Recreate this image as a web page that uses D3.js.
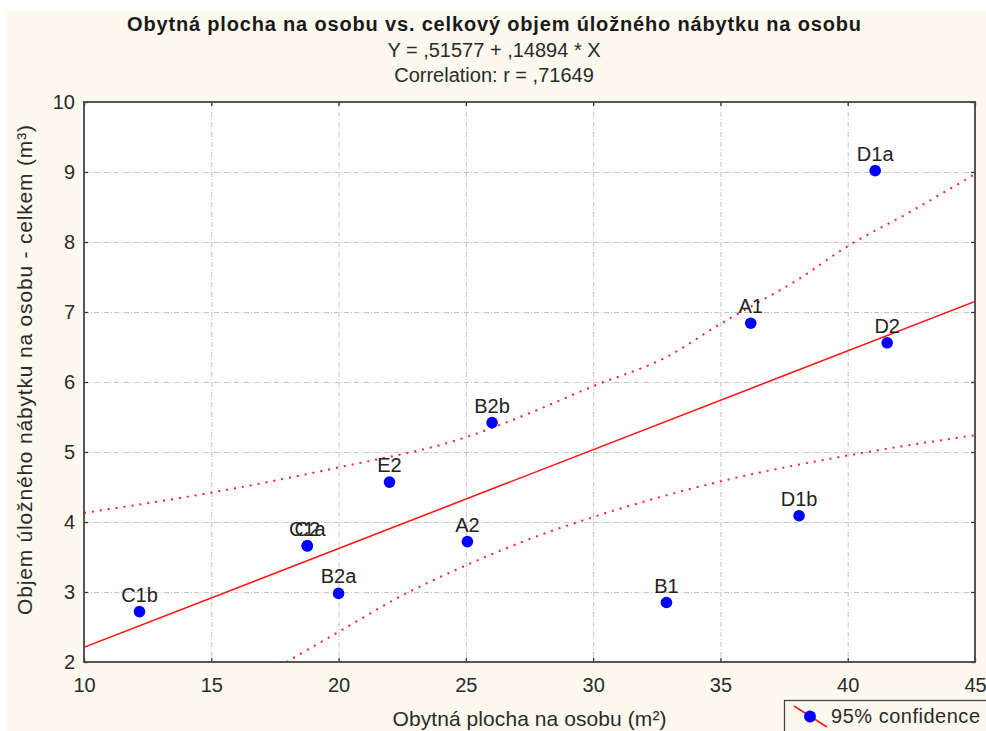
<!DOCTYPE html>
<html>
<head>
<meta charset="utf-8">
<script src="https://cdn.jsdelivr.net/npm/d3@7"></script>
<style>
  html, body { margin: 0; padding: 0; background: #ffffff; }
  svg { display: block; font-family: "Liberation Sans", Arial, sans-serif; }
</style>
</head>
<body>
<svg id="chart" width="986" height="731"></svg>
<script>
// ---- data ----
const titleText = "Obytná plocha na osobu vs. celkový objem úložného nábytku na osobu";
const equationText = "Y = ,51577 + ,14894 * X";
const correlationText = "Correlation: r = ,71649";
const xAxisTitle = "Obytná plocha na osobu (m²)";
const yAxisTitle = "Objem úložného nábytku na osobu - celkem (m³)";
const legendLabel = "95% confidence";

const pointLabels = ["C1b", "C1a", "C2", "B2a", "E2", "A2", "B2b", "B1", "A1", "D1b", "D1a", "D2"];
const pointX = [12.18, 18.77, 18.77, 20.0, 22.0, 25.06, 26.03, 32.88, 36.19, 38.09, 41.08, 41.55];
const pointY = [2.72, 3.66, 3.66, 2.98, 4.57, 3.72, 5.42, 2.85, 6.84, 4.09, 9.02, 6.56];

const fitX = [10, 45];
const fitY = [2.21, 7.15];

const upperX = [10, 15, 20, 25, 27.6, 30, 32.9, 35, 36.4, 37.9, 40, 42.5, 45];
const upperY = [4.13, 4.42, 4.78, 5.21, 5.57, 5.94, 6.36, 6.83, 7.12, 7.43, 7.94, 8.44, 8.97];

const lowerX = [17.94, 20, 22.5, 25, 27.6, 30, 35, 40, 45];
const lowerY = [2.0, 2.43, 2.95, 3.38, 3.77, 4.07, 4.58, 4.95, 5.24];

const xTicks = [10, 15, 20, 25, 30, 35, 40, 45];
const yTicks = [2, 3, 4, 5, 6, 7, 8, 9, 10];

// ---- layout ----
const svg = d3.select("#chart");
const plot = { left: 84, top: 102, right: 975, bottom: 662 };
const x = d3.scaleLinear().domain([10, 45]).range([plot.left, plot.right]);
const y = d3.scaleLinear().domain([2, 10]).range([plot.bottom, plot.top]);
const bg = "#fdf9ee";

svg.append("rect").attr("x", 7).attr("y", 10).attr("width", 979).attr("height", 721).attr("fill", bg);

// titles
const tcol = "#1a1a1a";
svg.append("text").attr("x", 494).attr("y", 31).attr("text-anchor", "middle")
  .attr("font-size", 20).attr("font-weight", "bold").attr("fill", tcol)
  .attr("textLength", 734).attr("lengthAdjust", "spacing").text(titleText);
svg.append("text").attr("x", 494).attr("y", 57).attr("text-anchor", "middle")
  .attr("font-size", 20).attr("fill", "#2a2a2a").text(equationText);
svg.append("text").attr("x", 494).attr("y", 82).attr("text-anchor", "middle")
  .attr("font-size", 20).attr("fill", "#2a2a2a").text(correlationText);

// plot background
svg.append("rect").attr("x", plot.left).attr("y", plot.top)
  .attr("width", plot.right - plot.left).attr("height", plot.bottom - plot.top)
  .attr("fill", "#ffffff");

// grid
const grid = svg.append("g").attr("stroke", "#c4c4c4").attr("stroke-width", 1)
  .attr("stroke-dasharray", "5,2,1,2");
grid.selectAll("line.gx").data(xTicks.slice(1, -1)).join("line")
  .attr("x1", d => x(d) + 0.5).attr("x2", d => x(d) + 0.5)
  .attr("y1", plot.top).attr("y2", plot.bottom);
grid.selectAll("line.gy").data(yTicks.slice(1, -1)).join("line")
  .attr("y1", d => Math.round(y(d)) + 0.5).attr("y2", d => Math.round(y(d)) + 0.5)
  .attr("x1", plot.left).attr("x2", plot.right);

// clip
svg.append("clipPath").attr("id", "clip").append("rect")
  .attr("x", plot.left).attr("y", plot.top)
  .attr("width", plot.right - plot.left).attr("height", plot.bottom - plot.top);
const g = svg.append("g").attr("clip-path", "url(#clip)");

const lineGen = d3.line().x(d => x(d[0])).y(d => y(d[1]));
const curveGen = d3.line().x(d => x(d[0])).y(d => y(d[1])).curve(d3.curveMonotoneX);

g.append("path").datum(upperX.map((v, i) => [v, upperY[i]]))
  .attr("d", curveGen).attr("fill", "none").attr("stroke", "#ff2020")
  .attr("stroke-width", 2).attr("stroke-dasharray", "2,6");
g.append("path").datum(lowerX.map((v, i) => [v, lowerY[i]]))
  .attr("d", curveGen).attr("fill", "none").attr("stroke", "#ff2020")
  .attr("stroke-width", 2).attr("stroke-dasharray", "2,6");
g.append("path").datum(fitX.map((v, i) => [v, fitY[i]]))
  .attr("d", lineGen).attr("fill", "none").attr("stroke", "#ff1a1a")
  .attr("stroke-width", 1.6);

// points
const pts = pointLabels.map((l, i) => ({ label: l, x: pointX[i], y: pointY[i] }));
svg.append("g").selectAll("circle").data(pts).join("circle")
  .attr("cx", d => x(d.x)).attr("cy", d => y(d.y)).attr("r", 5.8)
  .attr("fill", "#0000ff");
svg.append("g").selectAll("text").data(pts).join("text")
  .attr("x", d => x(d.x)).attr("y", d => y(d.y) - 10)
  .attr("text-anchor", "middle").attr("font-size", 20).attr("fill", "#222")
  .text(d => d.label);

// axes (ticks inside)
const axCol = "#333";
const bottomAxis = svg.append("g").attr("transform", `translate(0,${plot.bottom})`)
  .call(d3.axisBottom(x).tickValues(xTicks).tickSize(-4).tickPadding(16).tickFormat(d3.format("d")));
const leftAxis = svg.append("g").attr("transform", `translate(${plot.left},0)`)
  .call(d3.axisLeft(y).tickValues(yTicks).tickSize(-4).tickPadding(9).tickFormat(d3.format("d")));
const topAxis = svg.append("g").attr("transform", `translate(0,${plot.top})`)
  .call(d3.axisTop(x).tickValues(xTicks).tickSize(-4).tickFormat(""));
const rightAxis = svg.append("g").attr("transform", `translate(${plot.right},0)`)
  .call(d3.axisRight(y).tickValues(yTicks).tickSize(-4).tickFormat(""));
[bottomAxis, leftAxis, topAxis, rightAxis].forEach(a => {
  a.select(".domain").remove();
  a.selectAll("line").attr("stroke", axCol).attr("stroke-width", 1.3);
  a.selectAll("text").attr("font-size", 20).attr("fill", "#2a2a2a")
    .attr("font-family", "Liberation Sans, Arial, sans-serif");
});

// frame
svg.append("rect").attr("x", plot.left).attr("y", plot.top)
  .attr("width", plot.right - plot.left).attr("height", plot.bottom - plot.top)
  .attr("fill", "none").attr("stroke", "#444").attr("stroke-width", 1.8);

// axis titles
svg.append("text").attr("x", (plot.left + plot.right) / 2).attr("y", 726)
  .attr("text-anchor", "middle").attr("font-size", 21).attr("fill", "#2a2a2a")
  .attr("textLength", 274).attr("lengthAdjust", "spacing")
  .text(xAxisTitle);
svg.append("text").attr("transform", `translate(32,370) rotate(-90)`)
  .attr("text-anchor", "middle").attr("font-size", 21).attr("fill", "#2a2a2a")
  .attr("textLength", 490).attr("lengthAdjust", "spacing")
  .text(yAxisTitle);

// legend
const lg = svg.append("g");
lg.append("rect").attr("x", 784.5).attr("y", 700.5).attr("width", 260).attr("height", 60)
  .attr("fill", bg).attr("stroke", "#444").attr("stroke-width", 1.3);
lg.append("line").attr("x1", 794).attr("y1", 706).attr("x2", 827).attr("y2", 727)
  .attr("stroke", "#ff1a1a").attr("stroke-width", 1.6);
lg.append("circle").attr("cx", 810).attr("cy", 716.5).attr("r", 6).attr("fill", "#0000ff");
lg.append("text").attr("x", 831).attr("y", 723).attr("font-size", 20).attr("fill", "#2a2a2a")
  .attr("textLength", 149).attr("lengthAdjust", "spacing")
  .text(legendLabel);
</script>
</body>
</html>
